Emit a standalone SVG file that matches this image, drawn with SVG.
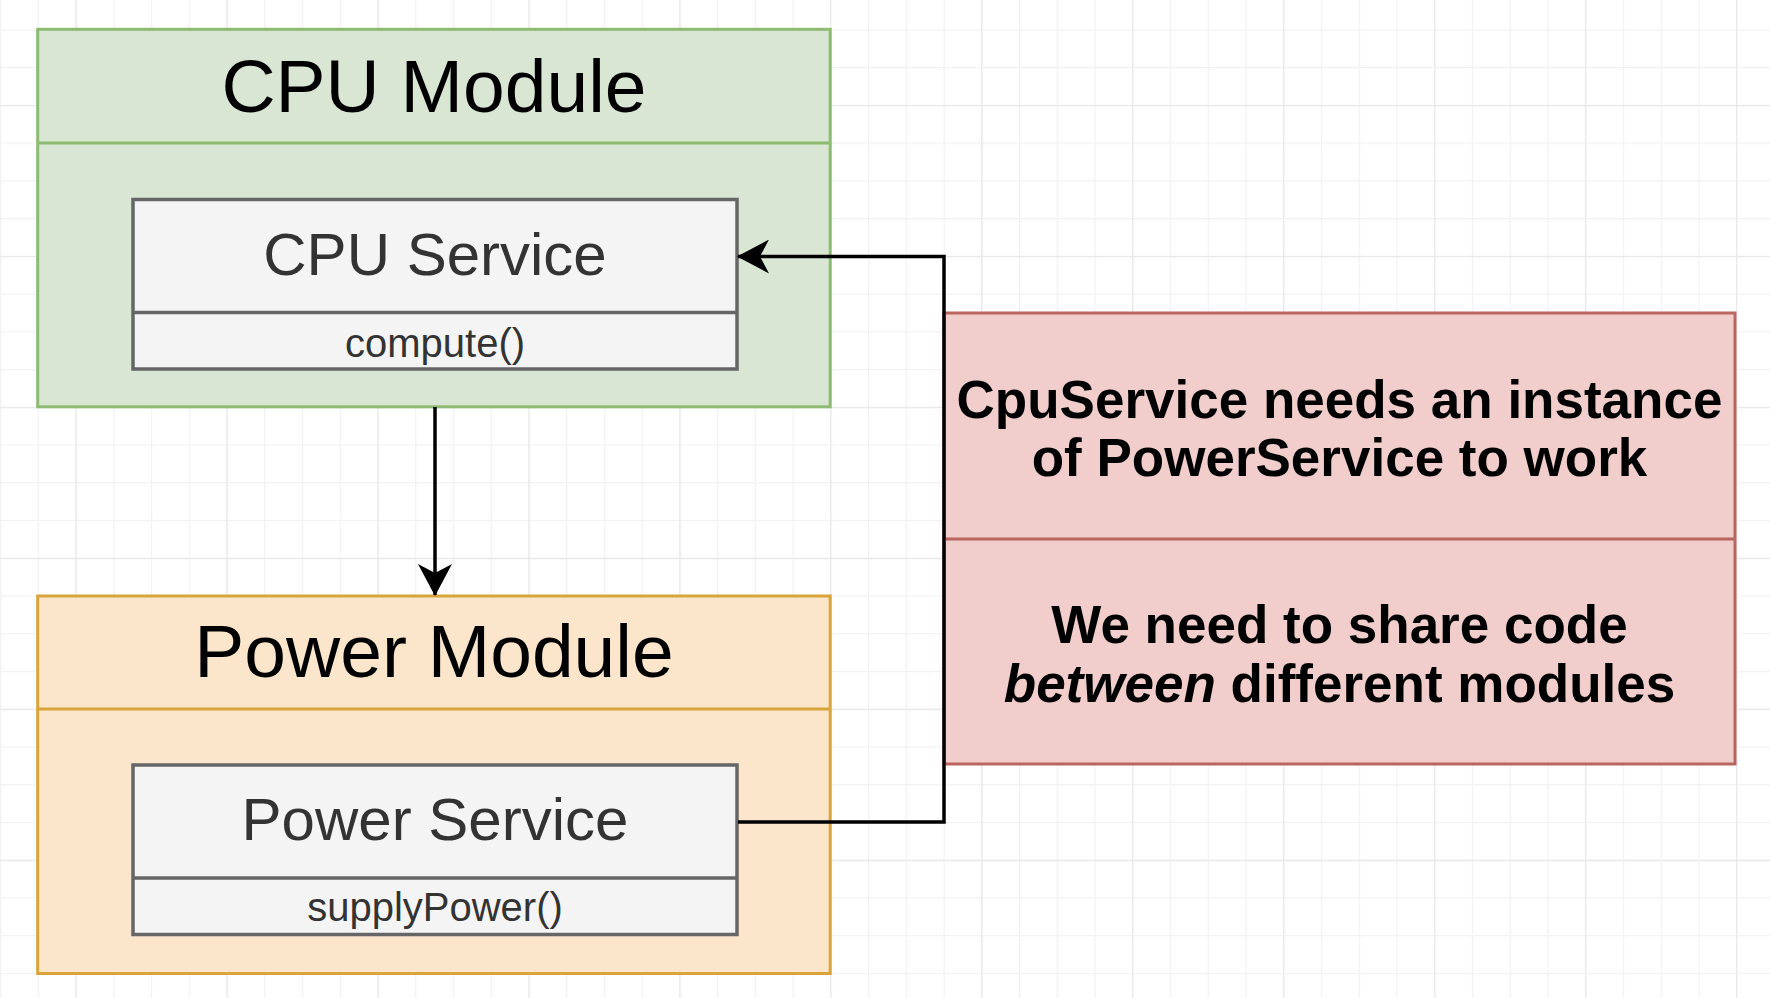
<svg xmlns="http://www.w3.org/2000/svg" width="1770" height="998" viewBox="0 0 1770 998">
<style>
.mod-title{font-family:"Liberation Sans",Arial,sans-serif;font-size:75px;fill:#000;text-anchor:middle}
.svc-title{font-family:"Liberation Sans",Arial,sans-serif;font-size:60px;fill:#333;text-anchor:middle}
.svc-op{font-family:"Liberation Sans",Arial,sans-serif;font-size:40px;fill:#333;text-anchor:middle}
.note{font-family:"Liberation Sans",Arial,sans-serif;font-size:53px;font-weight:bold;fill:#000;text-anchor:middle}
.green{fill:#d9e6d3;stroke:#8dbb72;stroke-width:3}
.orange{fill:#fbe5cb;stroke:#d9a43a;stroke-width:3}
.red{fill:#f1cdcb;stroke:#bb6561;stroke-width:3}
.svc{fill:#f4f4f4;stroke:#666;stroke-width:3.5}
.conn{fill:none;stroke:#000;stroke-width:3.5}
</style>
<defs>
<pattern id="gridMinor" width="37.74" height="37.74" patternUnits="userSpaceOnUse" x="0" y="29.3">
<path d="M0,0.5 H37.74 M0.5,0 V37.74" fill="none" stroke="#f2f2f2" stroke-width="1.5"/>
</pattern>
<pattern id="gridMajor" width="150.96" height="150.96" patternUnits="userSpaceOnUse" x="75.5" y="105">
<path d="M0,0.5 H150.96 M0.5,0 V150.96" fill="none" stroke="#e9e9e9" stroke-width="1.5"/>
</pattern>
<marker id="arrow" viewBox="0 0 32 34" refX="31" refY="17" markerWidth="32" markerHeight="34" markerUnits="userSpaceOnUse" orient="auto">
<path d="M32,17 L0,0 L9,17 L0,34 Z" fill="#000"/>
</marker>
</defs>
<rect width="1770" height="998" fill="#fff"/>
<rect width="1770" height="998" fill="url(#gridMinor)"/>
<rect width="1770" height="998" fill="url(#gridMajor)"/>

<g id="cpu-module">
<rect class="green" x="37.7" y="29.3" width="792.5" height="377.5"/>
<line class="green" x1="37.7" y1="143" x2="830.2" y2="143"/>
<text class="mod-title" x="434" y="112">CPU Module</text>
</g>
<g id="cpu-service">
<rect class="svc" x="133" y="199.5" width="604" height="169.5"/>
<line class="svc" x1="133" y1="312.5" x2="737" y2="312.5"/>
<text class="svc-title" x="435" y="275">CPU Service</text>
<text class="svc-op" x="435" y="357">compute()</text>
</g>

<g id="power-module">
<rect class="orange" x="37.7" y="596" width="792.5" height="377.5"/>
<line class="orange" x1="37.7" y1="709" x2="830.2" y2="709"/>
<text class="mod-title" x="434" y="677">Power Module</text>
</g>
<g id="power-service">
<rect class="svc" x="133" y="765" width="604" height="169.5"/>
<line class="svc" x1="133" y1="878" x2="737" y2="878"/>
<text class="svc-title" x="435" y="840">Power Service</text>
<text class="svc-op" x="435" y="921">supplyPower()</text>
</g>

<g id="note">
<rect class="red" x="944" y="313" width="791" height="451"/>
<line class="red" x1="944" y1="539" x2="1735" y2="539"/>
<text class="note" x="1339.5" y="418">CpuService needs an instance</text>
<text class="note" x="1339.5" y="476">of PowerService to work</text>
<text class="note" x="1339.5" y="643">We need to share code</text>
<text class="note" x="1339.5" y="702"><tspan font-style="italic">between</tspan> different modules</text>
</g>

<g id="connectors">
<path class="conn" d="M435,407 V595" marker-end="url(#arrow)"/>
<path class="conn" d="M738,822 H944 V256.5 H738" marker-end="url(#arrow)"/>
</g>
</svg>
